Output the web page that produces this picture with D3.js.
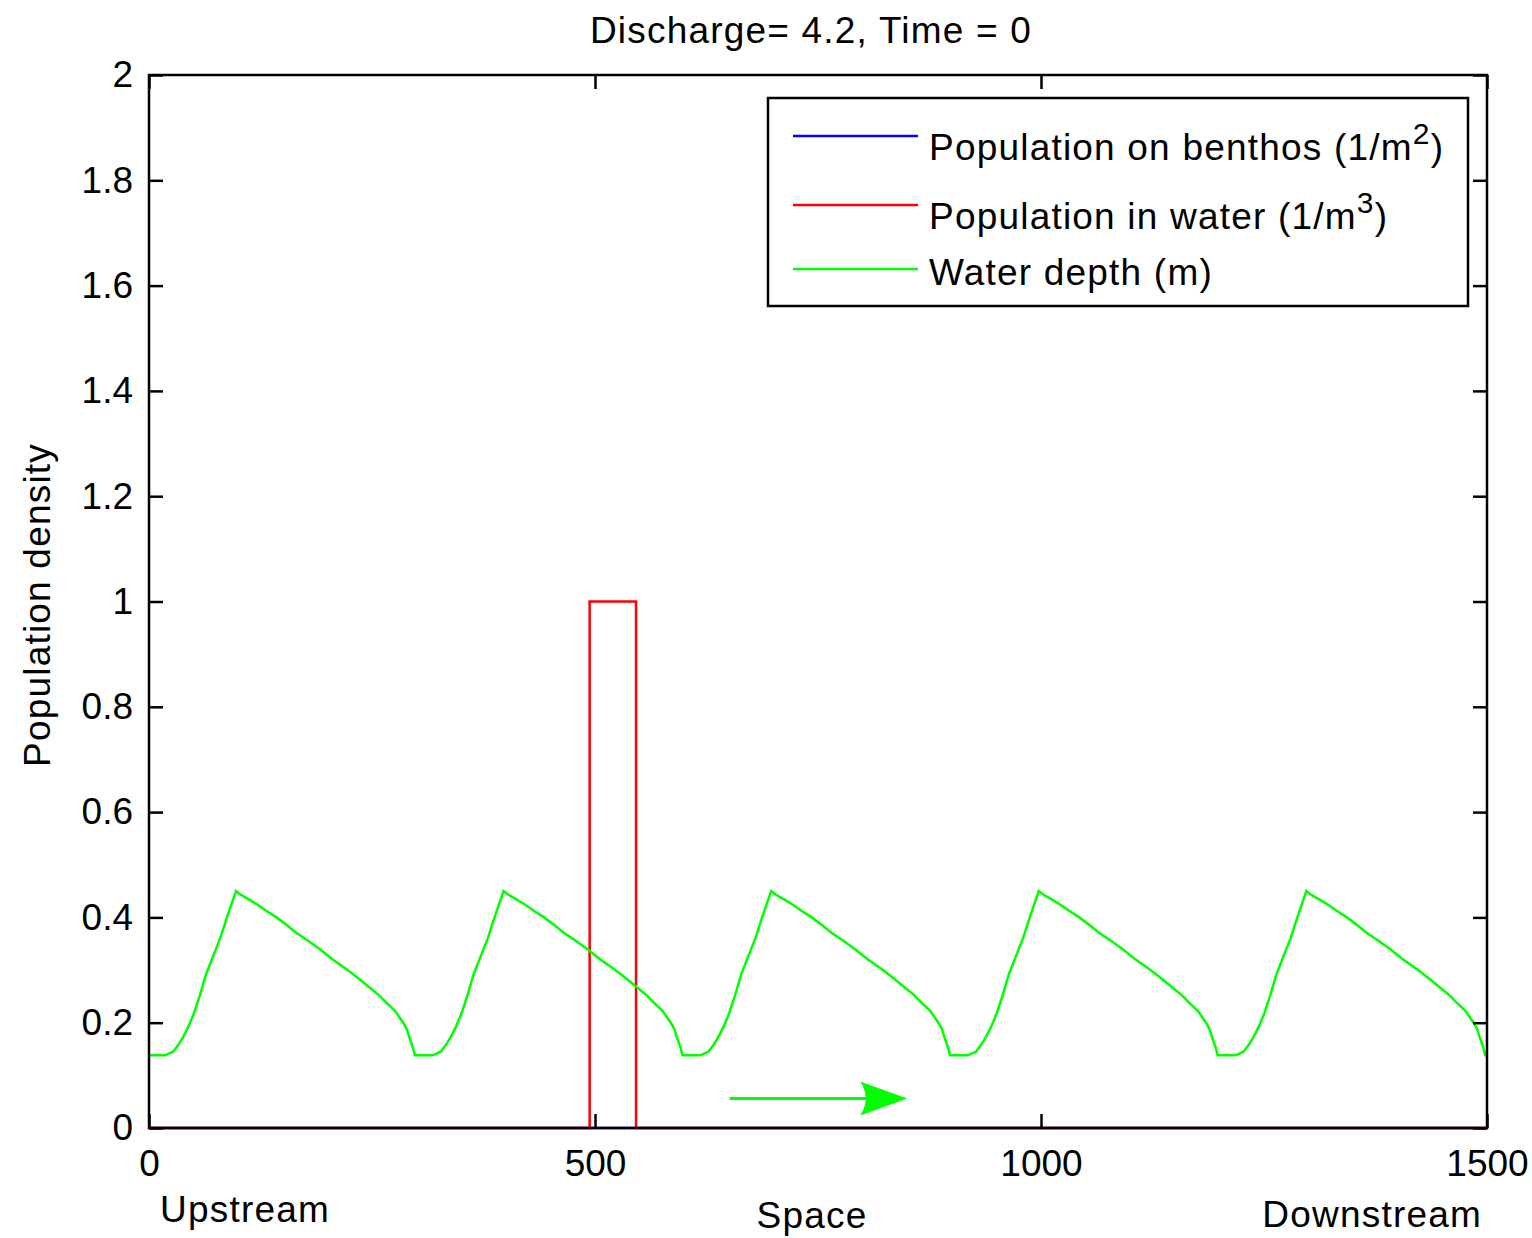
<!DOCTYPE html>
<html>
<head>
<meta charset="utf-8">
<script src="https://cdn.jsdelivr.net/npm/d3@7"></script>
<style>
  html, body { margin: 0; padding: 0; background: #fff; }
  text { font-family: "Liberation Sans", Arial, sans-serif; fill: #000; }
</style>
</head>
<body>
<div id="chart"></div>
<script>
// Chart values
const yTicks = [0, 0.2, 0.4, 0.6, 0.8, 1, 1.2, 1.4, 1.6, 1.8, 2];
const xTicks = [0, 500, 1000, 1500];

const benthosX = [0, 1500];
const benthosY = [0, 0];

const waterX = [0, 494, 494, 546, 546, 1500];
const waterY = [0, 0, 1, 1, 0, 0];

const depthX = [
  0, 18, 27, 33, 38, 44, 50, 57, 64, 72, 80, 86, 91, 97.5, 102, 110, 121, 131, 143, 154, 165, 178, 192, 206, 222, 235, 248, 258, 266, 276, 285, 289, 292, 296, 298,
  300, 318, 327, 333, 338, 344, 350, 357, 364, 372, 380, 386, 391, 397.5, 402, 410, 421, 431, 443, 454, 465, 478, 492, 506, 522, 535, 548, 558, 566, 576, 585, 589, 592, 596, 598,
  600, 618, 627, 633, 638, 644, 650, 657, 664, 672, 680, 686, 691, 697.5, 702, 710, 721, 731, 743, 754, 765, 778, 792, 806, 822, 835, 848, 858, 866, 876, 885, 889, 892, 896, 898,
  900, 918, 927, 933, 938, 944, 950, 957, 964, 972, 980, 986, 991, 997.5, 1002, 1010, 1021, 1031, 1043, 1054, 1065, 1078, 1092, 1106, 1122, 1135, 1148, 1158, 1166, 1176, 1185, 1189, 1192, 1196, 1198,
  1200, 1218, 1227, 1233, 1238, 1244, 1250, 1257, 1264, 1272, 1280, 1286, 1291, 1297.5, 1302, 1310, 1321, 1331, 1343, 1354, 1365, 1378, 1392, 1406, 1422, 1435, 1448, 1458, 1466, 1476, 1485, 1489, 1492, 1496, 1498, 1500
];
const depthY = [
  .138, .138, .145, .158, .172, .192, .216, .252, .292, .327, .361, .393, .418, .450, .444, .436, .425, .413, .400, .386, .371, .356, .339, .320, .301, .284, .266, .252, .238, .222, .200, .188, .171, .152, .138,
  .138, .138, .145, .158, .172, .192, .216, .252, .292, .327, .361, .393, .418, .450, .444, .436, .425, .413, .400, .386, .371, .356, .339, .320, .301, .284, .266, .252, .238, .222, .200, .188, .171, .152, .138,
  .138, .138, .145, .158, .172, .192, .216, .252, .292, .327, .361, .393, .418, .450, .444, .436, .425, .413, .400, .386, .371, .356, .339, .320, .301, .284, .266, .252, .238, .222, .200, .188, .171, .152, .138,
  .138, .138, .145, .158, .172, .192, .216, .252, .292, .327, .361, .393, .418, .450, .444, .436, .425, .413, .400, .386, .371, .356, .339, .320, .301, .284, .266, .252, .238, .222, .200, .188, .171, .152, .138,
  .138, .138, .145, .158, .172, .192, .216, .252, .292, .327, .361, .393, .418, .450, .444, .436, .425, .413, .400, .386, .371, .356, .339, .320, .301, .284, .266, .252, .238, .222, .200, .188, .171, .152, .138, .138
];

// flow direction arrow (data units)
const arrowX = [651, 850];
const arrowY = [0.056, 0.056];

const legendLabels = [
  { text: 'Population on benthos (1/m', sup: '2', color: '#0000ff' },
  { text: 'Population in water (1/m', sup: '3', color: '#ff0000' },
  { text: 'Water depth (m)', sup: null, color: '#00ff00' }
];

const W = 1532, H = 1238;
const margin = { top: 75, right: 45, bottom: 110, left: 149 };
const width = W - margin.left - margin.right;
const height = H - margin.top - margin.bottom;

const svg = d3.select('#chart').append('svg')
  .attr('width', W)
  .attr('height', H);

const g = svg.append('g')
  .attr('transform', `translate(${margin.left},${margin.top})`);

const x = d3.scaleLinear().domain([0, 1500]).range([0, width]);
const y = d3.scaleLinear().domain([0, 2]).range([height, 0]);

const line = d3.line()
  .x(d => x(d[0]))
  .y(d => y(d[1]));

const series = [
  { xs: benthosX, ys: benthosY, color: '#0000ff' },
  { xs: waterX, ys: waterY, color: '#ff0000' },
  { xs: depthX, ys: depthY, color: '#00ff00' }
];

// data lines
series.forEach(s => {
  g.append('path')
    .datum(s.xs.map((v, i) => [v, s.ys[i]]))
    .attr('d', line)
    .attr('fill', 'none')
    .attr('stroke', s.color)
    .attr('stroke-width', 2.5)
    .attr('stroke-linejoin', 'miter');
});

// arrow
const ax0 = x(arrowX[0]), ax1 = x(arrowX[1]), ay = y(arrowY[0]);
g.append('line')
  .attr('x1', ax0).attr('x2', ax1 - 30)
  .attr('y1', ay).attr('y2', ay)
  .attr('stroke', '#00ff00')
  .attr('stroke-width', 3);
g.append('path')
  .attr('d', `M${ax1},${ay} L${ax1 - 47},${ay - 17} Q${ax1 - 36},${ay} ${ax1 - 47},${ay + 17} Z`)
  .attr('fill', '#00ff00');

// axes (inward ticks on all four sides)
const fontTick = 37;
const yAxis = g.append('g')
  .call(d3.axisLeft(y).tickValues(yTicks).tickFormat(d3.format('~g'))
    .tickSizeInner(-14).tickSizeOuter(0).tickPadding(16));
const yAxisR = g.append('g')
  .attr('transform', `translate(${width},0)`)
  .call(d3.axisRight(y).tickValues(yTicks).tickFormat('')
    .tickSizeInner(-14).tickSizeOuter(0));
const xAxis = g.append('g')
  .attr('transform', `translate(0,${height})`)
  .call(d3.axisBottom(x).tickValues(xTicks).tickFormat(d3.format('d'))
    .tickSizeInner(-14).tickSizeOuter(0).tickPadding(22));
const xAxisT = g.append('g')
  .call(d3.axisTop(x).tickValues(xTicks).tickFormat('')
    .tickSizeInner(-14).tickSizeOuter(0));

[yAxis, yAxisR, xAxis, xAxisT].forEach(a => {
  a.select('.domain').remove();
  a.selectAll('.tick line').attr('stroke', '#000').attr('stroke-width', 2.5);
  a.selectAll('.tick text')
    .style('font-family', '"Liberation Sans", Arial, sans-serif')
    .style('font-size', fontTick + 'px')
    .attr('fill', '#000');
});

// box
g.append('rect')
  .attr('x', 0).attr('y', 0)
  .attr('width', width).attr('height', height)
  .attr('fill', 'none')
  .attr('stroke', '#000')
  .attr('stroke-width', 2.5);

// legend
const legend = svg.append('g');
legend.append('rect')
  .attr('x', 768).attr('y', 98)
  .attr('width', 700).attr('height', 208)
  .attr('fill', '#fff')
  .attr('stroke', '#000')
  .attr('stroke-width', 2.5);

const rowLineY = [136, 205, 269];
const rowTextY = [160, 229, 285];
legendLabels.forEach((d, i) => {
  legend.append('line')
    .attr('x1', 793).attr('x2', 918)
    .attr('y1', rowLineY[i]).attr('y2', rowLineY[i])
    .attr('stroke', d.color)
    .attr('stroke-width', 2.5);
  const t = legend.append('text')
    .attr('x', 929).attr('y', rowTextY[i])
    .style('font-size', '37px')
    .style('letter-spacing', '1.2px')
    .text(d.text);
  if (d.sup) {
    t.append('tspan')
      .attr('dy', -16)
      .style('font-size', '30px')
      .text(d.sup);
    t.append('tspan')
      .attr('dy', 16)
      .text(')');
  }
});

// title and labels
svg.append('text')
  .attr('x', 811).attr('y', 43)
  .attr('text-anchor', 'middle')
  .style('font-size', '37px')
  .style('letter-spacing', '1.2px')
  .text('Discharge= 4.2, Time = 0');

svg.append('text')
  .attr('transform', 'translate(50,605) rotate(-90)')
  .attr('text-anchor', 'middle')
  .style('font-size', '37px')
  .style('letter-spacing', '1.2px')
  .text('Population density');

svg.append('text')
  .attr('x', 812).attr('y', 1228)
  .attr('text-anchor', 'middle')
  .style('font-size', '37px')
  .style('letter-spacing', '1.2px')
  .text('Space');

svg.append('text')
  .attr('x', 160).attr('y', 1222)
  .style('font-size', '37px')
  .style('letter-spacing', '1.2px')
  .text('Upstream');

svg.append('text')
  .attr('x', 1482).attr('y', 1227)
  .attr('text-anchor', 'end')
  .style('font-size', '37px')
  .style('letter-spacing', '1.2px')
  .text('Downstream');
</script>
</body>
</html>
